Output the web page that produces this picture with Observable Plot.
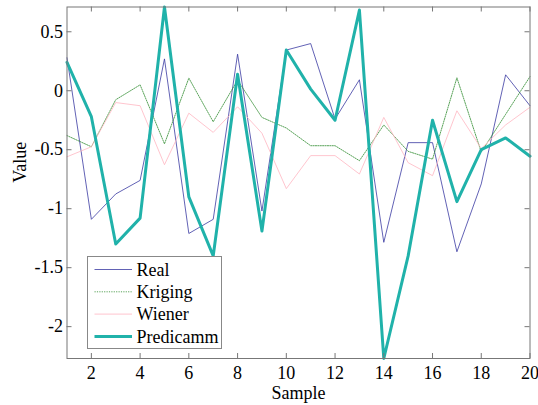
<!DOCTYPE html>
<html><head><meta charset="utf-8">
<script src="https://cdn.jsdelivr.net/npm/d3@7"></script>
<script src="https://cdn.jsdelivr.net/npm/@observablehq/plot@0.6"></script>
<style>
body{margin:0;background:#fff;}
#wrap{position:relative;width:538px;height:405px;}
#wrap, #wrap svg, #wrap text{font-family:"Liberation Serif","Times New Roman",Times,"DejaVu Serif",serif !important;}
#legend{position:absolute;left:86.5px;top:256px;}
</style>
</head><body>
<div id="wrap"><div id="chart"></div><svg id="legend" width="136" height="94"></svg></div>
<script>
const samples = [1,2,3,4,5,6,7,8,9,10,11,12,13,14,15,16,17,18,19,20];
const real      = [0.28,-1.09,-0.875,-0.76,0.27,-1.21,-1.09,0.31,-1.02,0.345,0.40,-0.24,0.093,-1.285,-0.44,-0.44,-1.365,-0.79,0.135,-0.127];
const kriging   = [-0.38,-0.475,-0.076,0.05,-0.45,0.107,-0.263,0.09,-0.226,-0.316,-0.466,-0.466,-0.593,-0.29,-0.514,-0.58,0.11,-0.52,-0.2,0.12];
const wiener    = [-0.56,-0.475,-0.10,-0.127,-0.627,-0.19,-0.353,-0.136,-0.36,-0.83,-0.55,-0.55,-0.706,-0.226,-0.61,-0.72,-0.17,-0.49,-0.29,-0.14];
const predicamm = [0.24,-0.22,-1.30,-1.08,0.71,-0.90,-1.40,0.14,-1.19,0.345,0.014,-0.25,0.684,-2.27,-1.40,-0.25,-0.94,-0.50,-0.40,-0.555];
const seriesNames = ["Real","Kriging","Wiener","Predicamm"];
const xTicks = [2,4,6,8,10,12,14,16,18,20];
const yTicks = [0.5,0,-0.5,-1,-1.5,-2];

const FONT = '"Liberation Serif","Times New Roman",Times,"DejaVu Serif",serif';
const styles = {
  Real:{stroke:"#3a3aa2", strokeWidth:0.8},
  Kriging:{stroke:"#2e8b2e", strokeWidth:0.8, strokeDasharray:"1.2,1.2"},
  Wiener:{stroke:"#ffb6c1", strokeWidth:0.8},
  Predicamm:{stroke:"#20b2aa", strokeWidth:3}
};
const values = {Real:real, Kriging:kriging, Wiener:wiener, Predicamm:predicamm};
const rows = name => samples.map((s,i)=>({s, v:values[name][i]}));

const W=538,H=405,mL=66.5,mR=8.5,mT=6.5,mB=47;
const pW=W-mL-mR, pH=H-mT-mB, tl=5, axc="#777";

const chart = Plot.plot({
  width:W, height:H, marginLeft:mL, marginRight:mR, marginTop:mT, marginBottom:mB,
  style:{fontFamily:FONT, fontSize:"18px", color:"#000", background:"#fff"},
  x:{domain:[1,20]},
  y:{domain:[-2.27,0.71]},
  marks:[
    ...seriesNames.map(n => Plot.line(rows(n), {x:"s", y:"v", ...styles[n]})),
    Plot.frame({stroke:axc}),
    Plot.tickX(xTicks, {x:d=>d, insetTop:pH-tl, stroke:axc}),
    Plot.tickX(xTicks, {x:d=>d, insetBottom:pH-tl, stroke:axc}),
    Plot.tickY(yTicks, {y:d=>d, insetRight:pW-tl, stroke:axc}),
    Plot.tickY(yTicks, {y:d=>d, insetLeft:pW-tl, stroke:axc}),
    Plot.axisX(xTicks, {tickSize:0, tickPadding:8, label:null, tickFormat:d=>String(d)}),
    Plot.axisY(yTicks, {tickSize:0, tickPadding:4, label:null, tickFormat:d=>String(d)}),
    Plot.text(["Sample"], {frameAnchor:"bottom", dy:35, lineAnchor:"middle", text:d=>d}),
    Plot.text(["Value"], {frameAnchor:"left", dx:-46.5, rotate:-90, lineAnchor:"middle", text:d=>d})
  ]
});
document.getElementById("chart").appendChild(chart);

const lg = d3.select("#legend");
lg.append("rect").attr("x",0.5).attr("y",0.5).attr("width",134).attr("height",92).attr("fill","#fff").attr("stroke","#888");
seriesNames.forEach((n,i)=>{
  const y = 13.5 + i*22.3;
  const st = styles[n];
  lg.append("line").attr("x1",7.5).attr("x2",45).attr("y1",y).attr("y2",y)
    .attr("stroke",st.stroke).attr("stroke-width",st.strokeWidth).attr("stroke-dasharray",st.strokeDasharray||null);
  lg.append("text").attr("x",49.5).attr("y",y).attr("dy","0.35em")
    .style("font-family",FONT).style("font-size","18px").text(n);
});
</script>
</body></html>
